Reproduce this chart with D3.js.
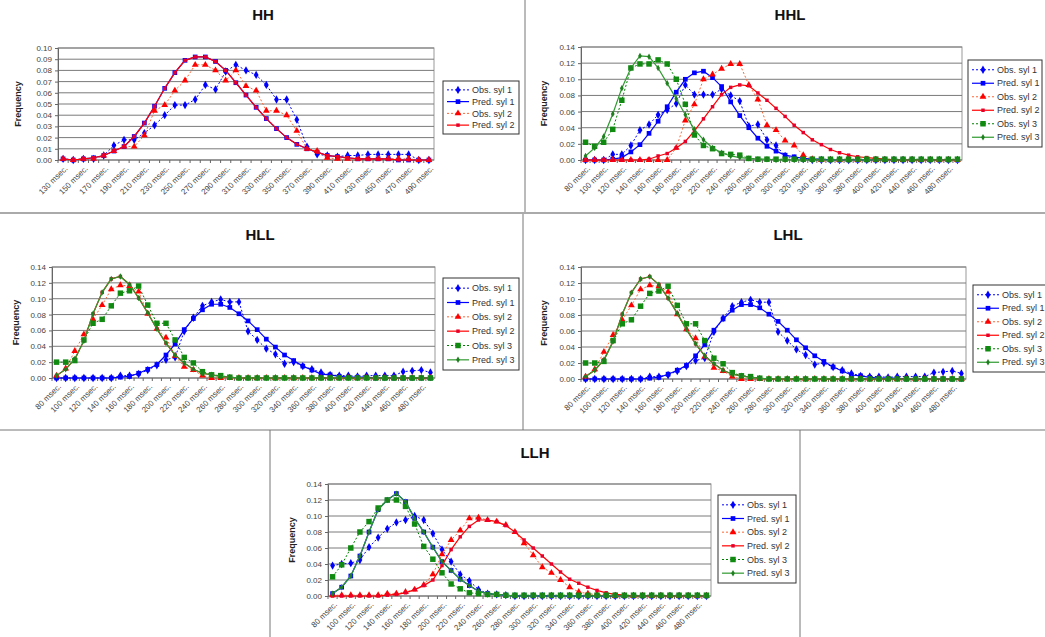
<!DOCTYPE html>
<html>
<head>
<meta charset="utf-8">
<script src="https://cdn.jsdelivr.net/npm/d3@7/dist/d3.min.js"></script>
<style>
  body { margin: 0; background: #fff; }
  svg { display: block; }
</style>
</head>
<body>
<script>
// category axes (msec)
const hhMsec = [130,140,150,160,170,180,190,200,210,220,230,240,250,260,270,280,290,300,310,320,330,340,350,360,370,380,390,400,410,420,430,440,450,460,470,480,490];
const longMsec = [80,90,100,110,120,130,140,150,160,170,180,190,200,210,220,230,240,250,260,270,280,290,300,310,320,330,340,350,360,370,380,390,400,410,420,430,440,450,460,470,480,490];
const hhYTicks = [0,0.01,0.02,0.03,0.04,0.05,0.06,0.07,0.08,0.09,0.10];
const longYTicks = [0,0.02,0.04,0.06,0.08,0.10,0.12,0.14];
const seriesNames = ['Obs. syl 1','Pred. syl 1','Obs. syl 2','Pred. syl 2','Obs. syl 3','Pred. syl 3'];

// HH
const hhObs1 = [0.001,0.000,0.001,0.001,0.004,0.013,0.018,0.018,0.024,0.031,0.040,0.049,0.049,0.054,0.067,0.063,0.079,0.085,0.080,0.076,0.067,0.054,0.054,0.036,0.012,0.005,0.004,0.003,0.004,0.004,0.005,0.005,0.005,0.005,0.005,0.000,0.000];
const hhPred1 = [0.001,0.000,0.001,0.002,0.004,0.008,0.012,0.021,0.033,0.048,0.064,0.078,0.089,0.092,0.092,0.088,0.080,0.069,0.058,0.047,0.037,0.028,0.020,0.014,0.010,0.007,0.004,0.003,0.002,0.001,0.001,0.001,0.001,0.000,0.000,0.000,0.000];
const hhObs2 = [0.001,0.000,0.001,0.001,0.004,0.008,0.012,0.012,0.022,0.044,0.049,0.062,0.071,0.085,0.085,0.080,0.071,0.080,0.066,0.062,0.044,0.044,0.040,0.026,0.010,0.008,0.002,0.001,0.001,0.001,0.001,0.001,0.001,0.001,0.001,0.000,0.000];
const hhPred2 = [0.001,0.000,0.001,0.002,0.004,0.008,0.012,0.021,0.033,0.048,0.064,0.078,0.089,0.092,0.092,0.088,0.080,0.069,0.058,0.047,0.037,0.028,0.020,0.014,0.010,0.007,0.004,0.003,0.002,0.001,0.001,0.001,0.001,0.000,0.000,0.000,0.000];

// HHL
const hhlObs1 = [0,0,0,0.007,0.007,0.018,0.037,0.044,0.056,0.062,0.070,0.093,0.081,0.081,0.081,0.088,0.080,0.073,0.042,0.044,0.025,0.018,0.005,0.002,0.001,0,0,0,0,0,0,0,0,0,0,0,0,0,0,0,0,0];
const hhlPred1 = [0,0,0,0.001,0.003,0.010,0.019,0.033,0.048,0.066,0.084,0.100,0.108,0.110,0.102,0.091,0.072,0.055,0.040,0.027,0.017,0.011,0.006,0.004,0.002,0.001,0.001,0,0,0,0,0,0,0,0,0,0,0,0,0,0,0];
const hhlObs2 = [0,0,0,0,0,0,0,0,0,0,0.015,0.049,0.069,0.100,0.106,0.113,0.119,0.119,0.093,0.075,0.043,0.037,0.024,0.018,0.006,0.001,0,0,0,0,0,0,0,0,0,0,0,0,0,0,0,0];
const hhlPred2 = [0,0,0,0,0,0,0,0.001,0.005,0.008,0.015,0.023,0.036,0.051,0.066,0.081,0.090,0.093,0.092,0.083,0.074,0.064,0.054,0.043,0.034,0.025,0.019,0.013,0.009,0.006,0.004,0.003,0.002,0.001,0,0,0,0,0,0,0,0];
const hhlObs3 = [0.022,0.017,0.022,0.038,0.074,0.114,0.119,0.119,0.124,0.119,0.100,0.069,0.031,0.018,0.014,0.008,0.007,0.006,0.002,0.001,0.001,0.001,0.001,0.001,0.001,0.001,0.001,0.001,0.001,0.001,0.001,0.001,0.001,0.001,0.001,0.001,0.001,0.001,0.001,0.001,0.001,0.001];
const hhlPred3 = [0.005,0.015,0.029,0.057,0.089,0.114,0.129,0.128,0.114,0.095,0.076,0.056,0.038,0.025,0.015,0.009,0.005,0.003,0.002,0.001,0.001,0,0,0,0,0,0,0,0,0,0,0,0,0,0,0,0,0,0,0,0,0];

// HLL (the LHL panel reads the same)
const hllObs1 = [0,0,0,0,0,0,0,0.003,0.003,0.005,0.010,0.016,0.023,0.026,0.059,0.076,0.091,0.096,0.099,0.096,0.096,0.059,0.048,0.037,0.030,0.018,0.020,0.015,0.011,0.007,0.004,0.003,0.003,0.002,0.003,0.003,0.003,0.003,0.008,0.009,0.010,0.007];
const hllPred1 = [0,0,0,0,0,0,0,0.001,0.002,0.006,0.011,0.017,0.029,0.043,0.061,0.075,0.086,0.093,0.093,0.089,0.081,0.072,0.061,0.049,0.039,0.029,0.022,0.015,0.010,0.005,0.004,0.002,0.001,0.001,0.001,0,0,0,0,0,0,0];
const hllObs2 = [0.003,0.012,0.034,0.055,0.074,0.092,0.112,0.117,0.116,0.109,0.081,0.062,0.051,0.028,0.014,0.010,0.003,0,0,0,0,0,0,0,0,0,0,0,0,0,0,0,0,0,0,0,0,0,0,0,0,0];
const hllPred2 = [0.003,0.011,0.024,0.047,0.081,0.108,0.125,0.128,0.118,0.101,0.082,0.062,0.044,0.029,0.019,0.011,0.006,0.004,0.002,0.001,0,0,0,0,0,0,0,0,0,0,0,0,0,0,0,0,0,0,0,0,0,0];
const hllObs3 = [0.020,0.020,0.022,0.048,0.069,0.074,0.091,0.107,0.110,0.116,0.092,0.069,0.069,0.048,0.026,0.019,0.008,0.004,0.003,0.001,0,0,0,0,0,0,0,0,0,0,0,0,0,0,0,0,0,0,0,0,0,0];
const hllPred3 = [0.003,0.011,0.024,0.047,0.081,0.108,0.125,0.128,0.118,0.101,0.082,0.062,0.044,0.029,0.019,0.011,0.006,0.004,0.002,0.001,0,0,0,0,0,0,0,0,0,0,0,0,0,0,0,0,0,0,0,0,0,0];

// LLH
const llhObs1 = [0.038,0.040,0.041,0.045,0.061,0.073,0.084,0.092,0.095,0.100,0.095,0.078,0.058,0.043,0.027,0.019,0.008,0.003,0.002,0.001,0,0,0,0,0,0,0,0,0,0,0,0,0,0,0,0,0,0,0,0,0,0];
const llhPred1 = [0.003,0.011,0.025,0.050,0.080,0.108,0.120,0.128,0.118,0.097,0.080,0.061,0.043,0.032,0.021,0.013,0.006,0.003,0.002,0.001,0,0,0,0,0,0,0,0,0,0,0,0,0,0,0,0,0,0,0,0,0,0];
const llhObs2 = [0.001,0.001,0.001,0.001,0.001,0.001,0.003,0.003,0.005,0.008,0.014,0.027,0.052,0.070,0.082,0.097,0.098,0.095,0.093,0.089,0.080,0.066,0.051,0.036,0.029,0.020,0.011,0.005,0.003,0.002,0.001,0,0,0,0,0,0,0,0,0,0,0];
const llhPred2 = [0,0,0,0,0,0,0.001,0.002,0.004,0.008,0.013,0.020,0.038,0.058,0.074,0.087,0.095,0.095,0.093,0.088,0.080,0.070,0.060,0.050,0.040,0.030,0.021,0.016,0.011,0.007,0.004,0.002,0.001,0,0,0,0,0,0,0,0,0];
const llhObs3 = [0.024,0.039,0.060,0.080,0.093,0.110,0.120,0.120,0.112,0.090,0.062,0.046,0.029,0.015,0.009,0.004,0.003,0.002,0.002,0.001,0.001,0.001,0.001,0.001,0.001,0.001,0.001,0.001,0.001,0.001,0.001,0.001,0.001,0.001,0.001,0.001,0.001,0.001,0.001,0.001,0.001,0.001];
const llhPred3 = [0.003,0.011,0.025,0.050,0.080,0.108,0.120,0.128,0.118,0.097,0.080,0.061,0.043,0.032,0.021,0.013,0.006,0.003,0.002,0.001,0,0,0,0,0,0,0,0,0,0,0,0,0,0,0,0,0,0,0,0,0,0];

// series look, in Excel draw order
const styles = [
  {line:'#0000ff', dash:'2,2', width:1, mark:'#0000ff', shape:d3.symbolDiamond, size:20},
  {line:'#0000ff', dash:null, width:1.2, mark:'#0000ff', shape:d3.symbolSquare, size:22},
  {line:'#ff6633', dash:'2,2', width:1, mark:'#ff0000', shape:d3.symbolTriangle, size:20},
  {line:'#ff0000', dash:null, width:1.2, mark:'#e8002a', shape:d3.symbolSquare, size:12},
  {line:'#008000', dash:'2,2', width:1, mark:'#108a10', shape:d3.symbolSquare, size:30},
  {line:'#2f9a2f', dash:null, width:1.2, mark:'#1f7f1f', shape:d3.symbolDiamond, size:12}
];

const panels = [
  {title:'HH', tx:263, ty:20, cats:hhMsec, ticks:hhYTicks, x0:58, x1:434, yT:48, yB:160, fx:18,
   legend:{x:443, y:81, w:76, h:53}, data:[hhObs1, hhPred1, hhObs2, hhPred2]},
  {title:'HHL', tx:790, ty:20, cats:longMsec, ticks:longYTicks, x0:581, x1:962, yT:47, yB:160, fx:544,
   legend:{x:968, y:60, w:74, h:87}, data:[hhlObs1, hhlPred1, hhlObs2, hhlPred2, hhlObs3, hhlPred3]},
  {title:'HLL', tx:260, ty:240, cats:longMsec, ticks:longYTicks, x0:52, x1:435, yT:267, yB:378, fx:16,
   legend:{x:443, y:278, w:76, h:92}, data:[hllObs1, hllPred1, hllObs2, hllPred2, hllObs3, hllPred3]},
  {title:'LHL', tx:788, ty:240, cats:longMsec, ticks:longYTicks, x0:581, x1:966, yT:267, yB:379, fx:544,
   legend:{x:973, y:285, w:76, h:87}, data:[hllObs1, hllPred1, hllObs2, hllPred2, hllObs3, hllPred3]},
  {title:'LLH', tx:535, ty:458, cats:longMsec, ticks:longYTicks, x0:328, x1:711, yT:484, yB:596, fx:292,
   legend:{x:718, y:495, w:78, h:88}, data:[llhObs1, llhPred1, llhObs2, llhPred2, llhObs3, llhPred3]}
];

const svg = d3.select('body').append('svg')
  .attr('width', 1045).attr('height', 637)
  .style('font-family', '"Liberation Sans", Arial, sans-serif');

// panel frames
const frames = svg.append('g').attr('fill', 'none');
frames.append('line').attr('x1', 525).attr('y1', 0).attr('x2', 525).attr('y2', 213).attr('stroke', '#777');
frames.append('line').attr('x1', 523).attr('y1', 213).attr('x2', 523).attr('y2', 430).attr('stroke', '#777');
frames.append('line').attr('x1', 0).attr('y1', 213).attr('x2', 1045).attr('y2', 213).attr('stroke', '#aaa').attr('stroke-width', 2);
frames.append('line').attr('x1', 0).attr('y1', 430).attr('x2', 1045).attr('y2', 430).attr('stroke', '#777');
frames.append('line').attr('x1', 270).attr('y1', 430).attr('x2', 270).attr('y2', 637).attr('stroke', '#777');
frames.append('line').attr('x1', 800).attr('y1', 430).attr('x2', 800).attr('y2', 637).attr('stroke', '#777');

function drawPanel(p) {
  const g = svg.append('g');
  const yMax = p.ticks[p.ticks.length - 1];
  const x = d3.scaleBand().domain(p.cats).range([p.x0, p.x1]);
  const cx = c => x(c) + x.bandwidth() / 2;
  const y = d3.scaleLinear().domain([0, yMax]).range([p.yB, p.yT]);

  g.append('text').attr('x', p.tx).attr('y', p.ty).attr('text-anchor', 'middle')
    .attr('font-size', 15).attr('font-weight', 'bold').attr('fill', '#111').text(p.title);

  g.append('text').attr('transform', `translate(${p.fx},${(p.yT + p.yB) / 2}) rotate(-90)`)
    .attr('text-anchor', 'middle').attr('dy', '0.35em')
    .attr('font-size', 9).attr('font-weight', 'bold').attr('fill', '#222').text('Frequency');

  // plot area + gridlines
  g.append('rect').attr('x', p.x0).attr('y', p.yT).attr('width', p.x1 - p.x0).attr('height', p.yB - p.yT)
    .attr('fill', '#fff').attr('stroke', '#999');
  g.append('g').selectAll('line').data(p.ticks.slice(1)).join('line')
    .attr('x1', p.x0).attr('x2', p.x1).attr('y1', d => y(d)).attr('y2', d => y(d))
    .attr('stroke', '#7a7a7a').attr('stroke-width', 1);

  const ya = g.append('g').attr('transform', `translate(${p.x0},0)`)
    .call(d3.axisLeft(y).tickValues(p.ticks).tickSize(3).tickPadding(3).tickFormat(d3.format('.2f')));
  ya.select('.domain').attr('stroke', '#666');
  ya.selectAll('.tick line').attr('stroke', '#666');
  ya.selectAll('text').attr('font-size', 8).attr('fill', '#444').attr('font-family', null);

  // category axis: tick marks between categories, label every other category
  g.append('line').attr('x1', p.x0).attr('x2', p.x1).attr('y1', p.yB).attr('y2', p.yB).attr('stroke', '#666');
  g.append('g').selectAll('line').data(p.cats).join('line')
    .attr('x1', d => x(d)).attr('x2', d => x(d)).attr('y1', p.yB).attr('y2', p.yB + 3).attr('stroke', '#666');
  g.append('g').selectAll('text').data(p.cats.filter((d, i) => i % 2 === 0)).join('text')
    .attr('transform', d => `translate(${cx(d) + 3},${p.yB + 7}) rotate(-45)`)
    .attr('text-anchor', 'end').attr('dy', '0.35em')
    .attr('font-size', 8).attr('fill', '#444').text(d => d + ' msec.');

  // series
  p.data.forEach((vals, k) => {
    const st = styles[k];
    const pts = p.cats.map((c, i) => [cx(c), y(vals[i])]);
    g.append('path').attr('d', d3.line()(pts)).attr('fill', 'none')
      .attr('stroke', st.line).attr('stroke-width', st.width).attr('stroke-dasharray', st.dash);
    g.append('g').selectAll('path').data(pts).join('path')
      .attr('transform', d => `translate(${d[0]},${d[1]})`)
      .attr('d', d3.symbol().type(st.shape).size(st.size)).attr('fill', st.mark);
  });

  // legend
  const L = p.legend, n = p.data.length, rowH = (L.h - 6) / n;
  const lg = g.append('g');
  lg.append('rect').attr('x', L.x).attr('y', L.y).attr('width', L.w).attr('height', L.h)
    .attr('fill', '#fff').attr('stroke', '#333');
  p.data.forEach((vals, k) => {
    const st = styles[k], ry = L.y + 3 + rowH * (k + 0.5);
    lg.append('line').attr('x1', L.x + 4).attr('x2', L.x + 26).attr('y1', ry).attr('y2', ry)
      .attr('stroke', st.line).attr('stroke-width', st.width).attr('stroke-dasharray', st.dash);
    lg.append('path').attr('transform', `translate(${L.x + 15},${ry})`)
      .attr('d', d3.symbol().type(st.shape).size(st.size)).attr('fill', st.mark);
    lg.append('text').attr('x', L.x + 29).attr('y', ry).attr('dy', '0.35em')
      .attr('font-size', 9).attr('fill', '#333').text(seriesNames[k]);
  });
}

panels.forEach(drawPanel);
</script>
</body>
</html>
